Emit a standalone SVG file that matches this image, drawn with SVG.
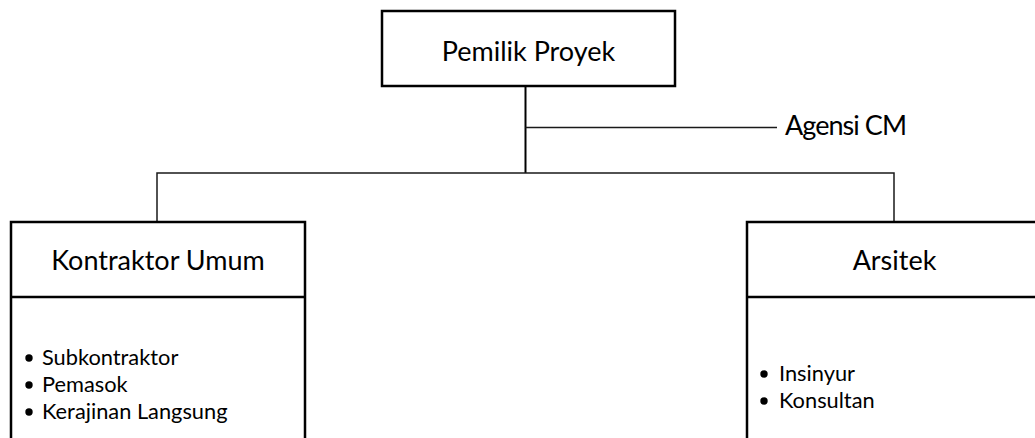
<svg xmlns="http://www.w3.org/2000/svg" width="1035" height="438" viewBox="0 0 1035 438">
  <style>
    .box { fill: #ffffff; stroke: #000000; stroke-width: 2.5; }
    .link { fill: none; stroke: #1a1a1a; stroke-width: 1.5; }
    .trunk { fill: none; stroke: #000000; stroke-width: 2; }
    .title { font-family: Lato, "Open Sans", sans-serif; font-size: 27px; fill: #000000; }
    .item { font-family: Lato, "Open Sans", sans-serif; font-size: 21.8px; fill: #000000; }
    .dot { fill: #000000; }
  </style>
  <rect width="1035" height="438" fill="#ffffff"/>

  <!-- connectors -->
  <g id="connectors">
    <line class="trunk" x1="525.5" y1="87" x2="525.5" y2="173"/>
    <line class="link" x1="525.5" y1="127.5" x2="777" y2="127.5"/>
    <polyline class="link" points="157,222 157,173 894,173 894,222"/>
  </g>

  <!-- owner -->
  <g id="node-owner">
    <rect class="box" x="382" y="11" width="293" height="75"/>
    <text class="title" x="528.5" y="61" text-anchor="middle">Pemilik Proyek</text>
  </g>

  <!-- CM agency label -->
  <g id="node-cm">
    <text class="title" x="785" y="135" textLength="122">Agensi CM</text>
  </g>

  <!-- general contractor -->
  <g id="node-contractor">
    <path class="box" d="M11,445 V222 H305 V445"/>
    <line class="box" x1="11" y1="297" x2="305" y2="297"/>
    <text class="title" x="158" y="270" text-anchor="middle">Kontraktor Umum</text>
    <circle class="dot" cx="29" cy="358" r="3.7"/>
    <text class="item" x="42" y="365">Subkontraktor</text>
    <circle class="dot" cx="29" cy="385" r="3.7"/>
    <text class="item" x="42" y="392">Pemasok</text>
    <circle class="dot" cx="29" cy="412" r="3.7"/>
    <text class="item" x="42" y="419">Kerajinan Langsung</text>
  </g>

  <!-- architect -->
  <g id="node-architect">
    <path class="box" d="M747,445 V222 H1045"/>
    <line class="box" x1="747" y1="297" x2="1045" y2="297"/>
    <text class="title" x="894.5" y="270" text-anchor="middle">Arsitek</text>
    <circle class="dot" cx="764" cy="374" r="3.7"/>
    <text class="item" x="779" y="381">Insinyur</text>
    <circle class="dot" cx="764" cy="401" r="3.7"/>
    <text class="item" x="779" y="408">Konsultan</text>
  </g>
</svg>
